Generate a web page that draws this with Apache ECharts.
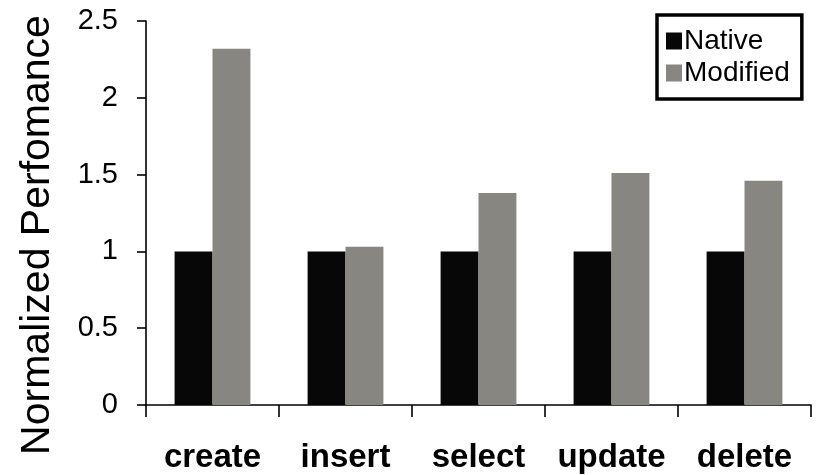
<!DOCTYPE html>
<html>
<head>
<meta charset="utf-8">
<script src="https://cdn.jsdelivr.net/npm/echarts@6/dist/echarts.min.js"></script>
<style>
  html, body { margin: 0; padding: 0; background: #fff; }
  #chart { width: 817px; height: 475px; }
</style>
</head>
<body>
<div id="chart"></div>
<script>
// Operations measured
const categories = ['create', 'insert', 'select', 'update', 'delete'];
// Performance normalized to the native implementation
const nativeValues = [1, 1, 1, 1, 1];
const modifiedValues = [2.32, 1.03, 1.38, 1.51, 1.46];
const seriesNames = ['Native', 'Modified'];

const chart = echarts.init(document.getElementById('chart'), null, { renderer: 'canvas' });

const font = '"Liberation Sans", Arial, sans-serif';
const axisLine = { show: true, lineStyle: { color: '#000', width: 1.6 } };

chart.setOption({
  animation: false,
  backgroundColor: '#fff',
  grid: { left: 146, right: 6, top: 21, bottom: 70, containLabel: false },
  legend: {
    data: seriesNames,
    orient: 'vertical',
    left: 657,
    top: 15,
    padding: [12, 12, 12, 9],
    itemGap: 4,
    itemWidth: 16,
    itemHeight: 17,
    icon: 'rect',
    borderColor: '#000',
    borderWidth: 3.5,
    backgroundColor: '#fff',
    textStyle: { fontFamily: font, fontSize: 28, color: '#000', padding: [0, 0, 0, -3], lineHeight: 28 }
  },
  xAxis: {
    type: 'category',
    data: categories,
    axisLine: axisLine,
    axisTick: { show: true, interval: 0, length: 12, lineStyle: { color: '#000', width: 1.6 } },
    axisLabel: { interval: 0, fontFamily: font, fontSize: 33, fontWeight: 'bold', color: '#000', margin: 36 },
    splitLine: { show: false }
  },
  yAxis: {
    type: 'value',
    min: 0,
    max: 2.5,
    interval: 0.5,
    axisLine: axisLine,
    axisTick: { show: true, length: 9, lineStyle: { color: '#000', width: 1.6 } },
    axisLabel: { fontFamily: font, fontSize: 29, color: '#000', margin: 28 },
    splitLine: { show: false },
    name: 'Normalized Perfomance',
    nameLocation: 'middle',
    nameRotate: 90,
    nameGap: 88,
    nameTextStyle: { fontFamily: font, fontSize: 41, color: '#000', padding: [0, 44, 0, 0] }
  },
  series: [
    {
      name: seriesNames[0],
      type: 'bar',
      data: nativeValues,
      barGap: '0%',
      barCategoryGap: '43%',
      itemStyle: { color: '#070707' }
    },
    {
      name: seriesNames[1],
      type: 'bar',
      data: modifiedValues,
      barGap: '0%',
      barCategoryGap: '43%',
      itemStyle: { color: '#878681' }
    }
  ]
});
</script>
</body>
</html>
